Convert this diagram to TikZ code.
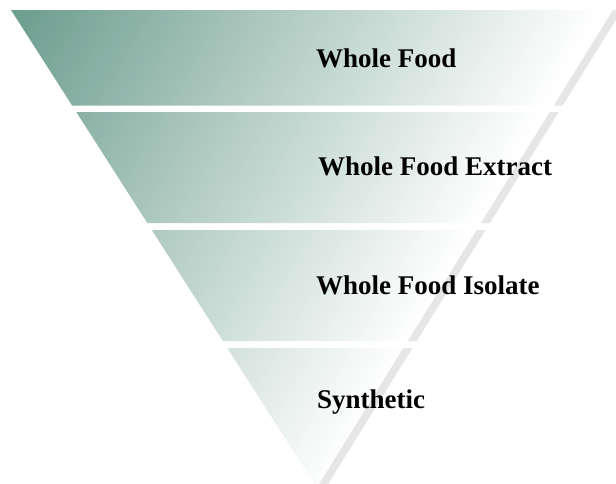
\documentclass[tikz,border=0pt]{standalone}
\usepackage{fontspec}
\setmainfont{Liberation Serif}
\definecolor{tealdark}{RGB}{108,157,142}
\definecolor{edgegrey}{RGB}{230,230,230}
\begin{document}
\begin{tikzpicture}[x=1pt, y=-1pt,
    tierlabel/.style={anchor=base west, inner sep=0pt, font=\fontsize{27}{30}\selectfont\bfseries},
    sideedge/.style={fill=edgegrey}
]
    \useasboundingbox (0,0) rectangle (616,483);
    \clip (0,0) rectangle (616,483);

    % Shaded tiers
    \begin{scope}
        \clip foreach \t/\b in {10/105.7, 112/223, 230/341, 348/487.8}
            { ({11+0.64*(\t-10)},\t) -- ({613-0.62*(\t-10)},\t) -- ({613-0.62*(\b-10)},\b) -- ({11+0.64*(\b-10)},\b) -- cycle };
        \shade[top color=tealdark, bottom color=white, middle color=white, shading angle=60] (-57.5,-245.5) rectangle (964.5,776.5);
    \end{scope}

    % Grey side edge
    \fill[sideedge] foreach \t/\b in {10/105.7, 112/223, 230/341, 348/487.8}
        { ({613-0.62*(\t-10)},\t) -- ({622-0.62*(\t-10)},\t) -- ({622-0.62*(\b-10)},\b) -- ({613-0.62*(\b-10)},\b) -- cycle };

    % Labels
    \node[tierlabel] (whole) at (316,67) {Whole Food};
    \node[tierlabel] (extract) at (318,175) {Whole Food Extract};
    \node[tierlabel] (isolate) at (316,294) {Whole Food Isolate};
    \node[tierlabel] (synthetic) at (317,408) {Synthetic};
\end{tikzpicture}
\end{document}
